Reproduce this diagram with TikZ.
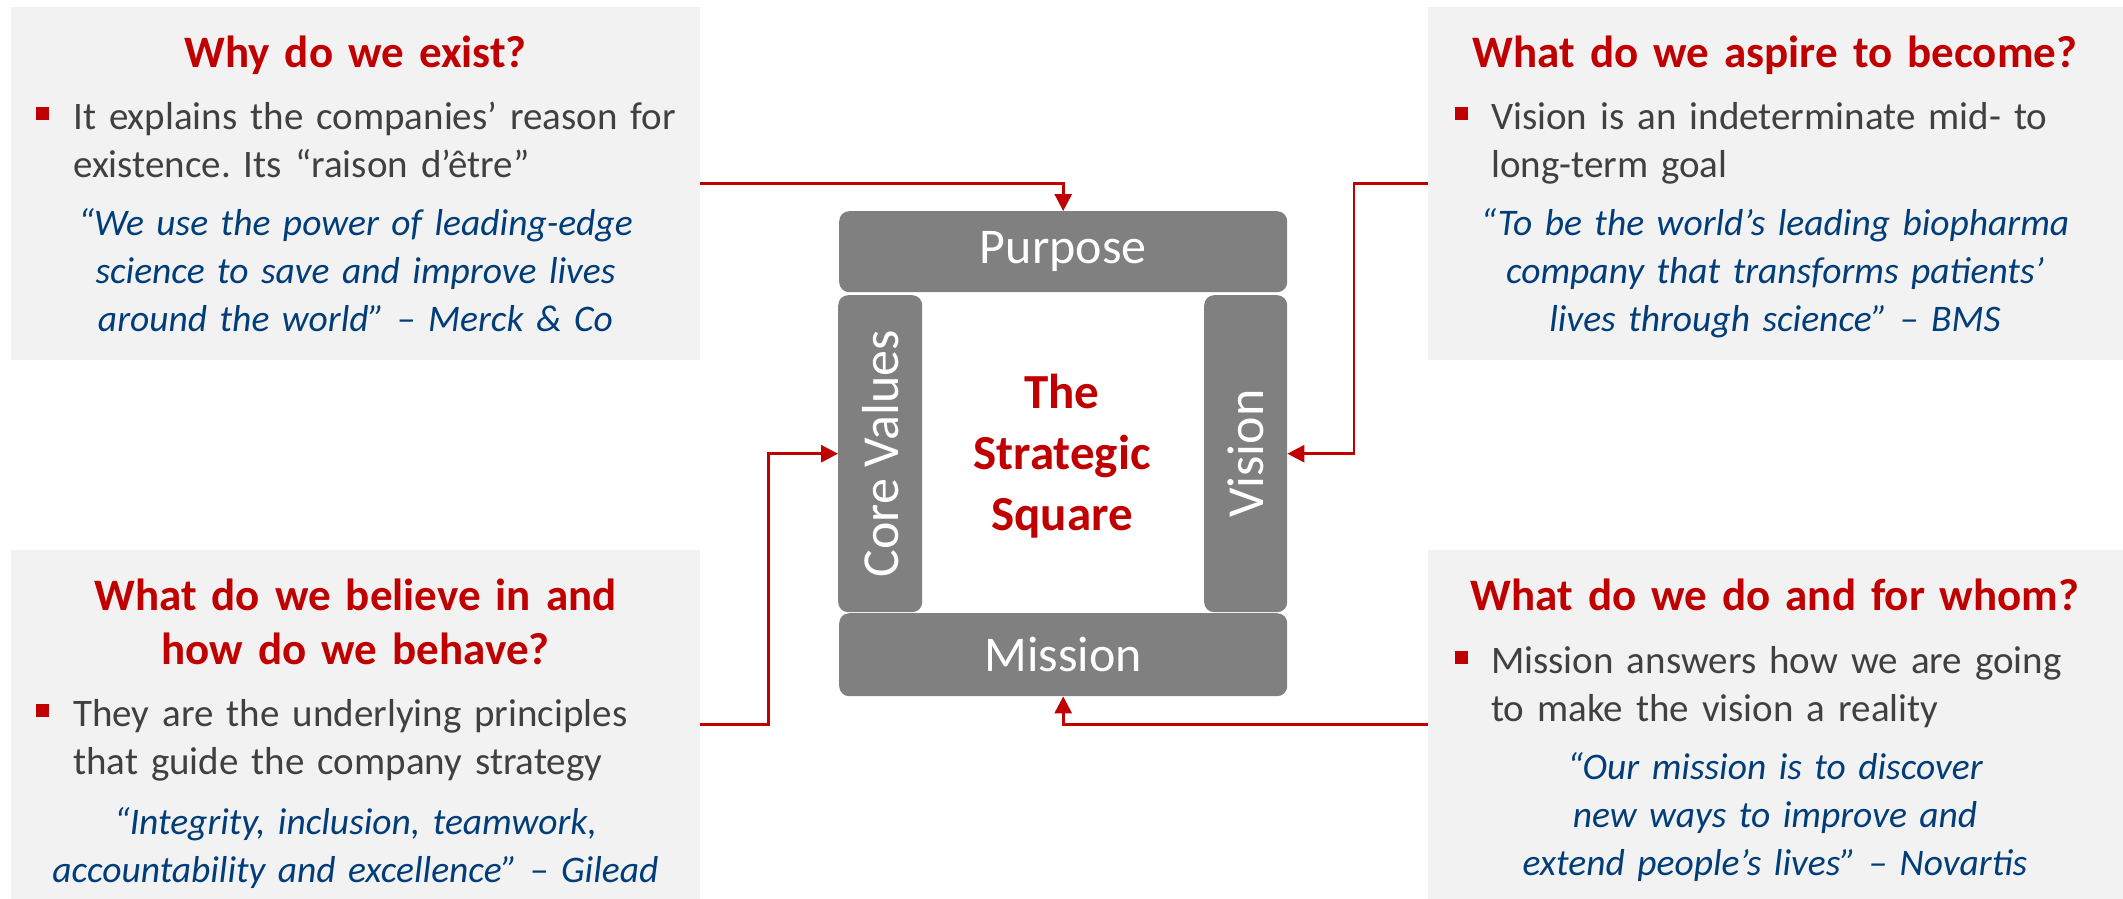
\documentclass[tikz,border=0pt]{standalone}
\usepackage{fontspec}
\setmainfont{Carlito}
\usetikzlibrary{arrows.meta}
\frenchspacing
\definecolor{hred}{HTML}{C00000}
\definecolor{qblue}{RGB}{0,61,121}
\definecolor{btext}{HTML}{404040}
\definecolor{bargray}{HTML}{808080}
\definecolor{boxgray}{HTML}{F2F2F2}
\tikzset{
  panel/.style={fill=boxgray, inner sep=0pt, anchor=north west},
  bar/.style={fill=bargray, rounded corners=10pt, inner sep=0pt, anchor=north west, text=white, font=\fontsize{50}{60}\selectfont},
  barlabel/.style={text=white, inner sep=0pt, font=\fontsize{52}{60}\selectfont},
  head/.style={text=hred, font=\fontsize{45}{54}\selectfont\bfseries, align=center, text width=680pt, anchor=base, inner sep=0pt},
  body/.style={text=btext, font=\fontsize{39}{48}\selectfont, align=left, text width=640pt, anchor=base west, inner sep=0pt},
  quote/.style={text=qblue, font=\fontsize{37.5}{48}\selectfont\itshape, align=center, text width=680pt, anchor=base, inner sep=0pt},
  bul/.style={fill=hred, minimum size=13pt, inner sep=0pt},
  conn/.style={draw=hred, line width=2.8pt, -{Triangle[length=17pt,width=17pt]}}
}
\begin{document}
\begin{tikzpicture}[x=1pt,y=-1pt]
\useasboundingbox (0,0) rectangle (2123,899);
\fill[white] (0,0) rectangle (2123,899);

% panels
\node[panel, minimum width=689pt, minimum height=353pt] (tl) at (11,7) {};
\node[panel, minimum width=695pt, minimum height=353pt] (tr) at (1428,7) {};
\node[panel, minimum width=689pt, minimum height=349pt] (bl) at (11,550) {};
\node[panel, minimum width=695pt, minimum height=349pt] (br) at (1428,550) {};

% top left
\node[head] (tlh) at (355.5,67) {Why do we exist?};
\node[bul] (tlbul) at (42.5,113) {};
\node[body] (tlbody) at (73,129) {It explains the companies’ reason for\\existence. Its “raison d’être”};
\node[quote] (tlq) at (355.5,235) {“We use the power of leading-edge\\science to save and improve lives\\around the world” – Merck \& Co};

% top right
\node[head] (trh) at (1775,67) {What do we aspire to become?};
\node[bul] (trbul) at (1461,113) {};
\node[body] (trbody) at (1491,129) {Vision is an indeterminate mid- to\\long-term goal};
\node[quote] (trq) at (1775,235) {“To be the world’s leading biopharma\\company that transforms patients’\\lives through science” – BMS};

% bottom left
\node[head] (blh) at (355.5,610) {What do we believe in and\\how do we behave?};
\node[bul] (blbul) at (42.5,710) {};
\node[body] (blbody) at (73,726) {They are the underlying principles\\that guide the company strategy};
\node[quote] (blq) at (355.5,834) {“Integrity, inclusion, teamwork,\\accountability and excellence” – Gilead};

% bottom right
\node[head] (brh) at (1775,610) {What do we do and for whom?};
\node[bul] (brbul) at (1461,657) {};
\node[body] (brbody) at (1491,673) {Mission answers how we are going\\to make the vision a reality};
\node[quote] (brq) at (1775,779) {“Our mission is to discover\\new ways to improve and\\extend people’s lives” – Novartis};

% strategic square
\node[bar, minimum width=448pt, minimum height=81pt] (purpose) at (839,211) {Purpose};
\node[bar, minimum width=84pt, minimum height=317pt] (core) at (838,295) {};
\node[barlabel, rotate=90] (coret) at (core.center) {Core Values};
\node[bar, minimum width=83pt, minimum height=317pt] (vision) at (1204,295) {};
\node[barlabel, rotate=90] (visiont) at (vision.center) {Vision};
\node[bar, minimum width=448pt, minimum height=83pt] (mission) at (839,613) {Mission};
\node[font=\fontsize{49}{61}\selectfont\bfseries, text=hred, align=center, text width=280pt, anchor=base, inner sep=0pt] (title) at (1062,408) {The\\Strategic\\Square};

% connectors
\draw[conn] (tl.east) -| (purpose.north);
\draw[conn] (tr.west) -- ++(-74,0) |- (vision.east);
\draw[conn] (bl.east) -- ++(68,0) |- (core.west);
\draw[conn] (br.west) -| (mission.south);
\end{tikzpicture}
\end{document}
